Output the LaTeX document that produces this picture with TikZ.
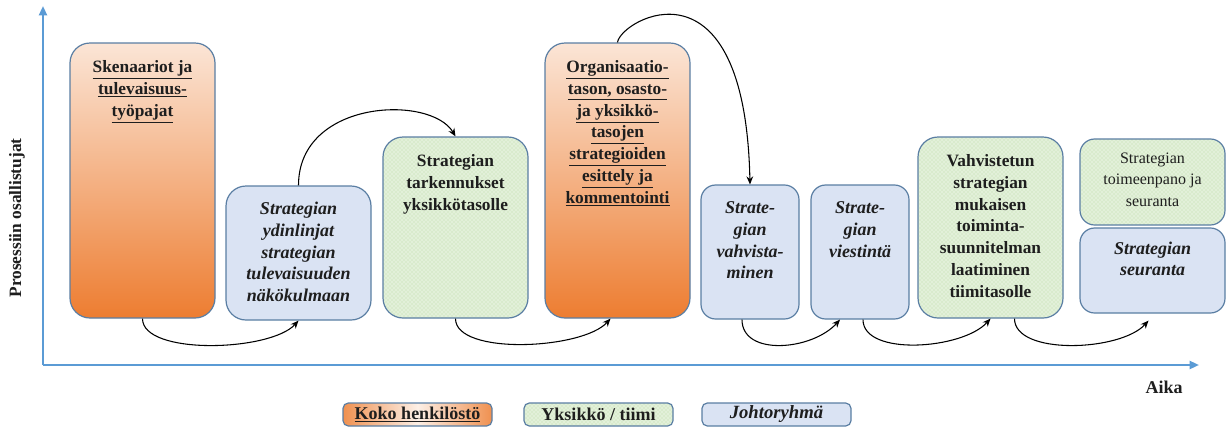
\documentclass[tikz,border=0pt]{standalone}
\usepackage{fontspec}
\setmainfont{Liberation Serif}
\usetikzlibrary{arrows.meta,patterns,calc}

\definecolor{peach}{HTML}{FBE5D6}
\definecolor{deeporange}{HTML}{ED7D31}
\definecolor{paleblue}{HTML}{DAE3F3}
\definecolor{palegreen}{HTML}{E2F0D9}
\definecolor{dotgreen}{HTML}{BDDBA8}
\definecolor{frame}{HTML}{5A7EA3}
\definecolor{axisblue}{HTML}{5B9BD5}
\definecolor{ink}{HTML}{1E1E1E}

% orange edges with a light centre, for the legend key
\pgfdeclarehorizontalshading{legendglow}{100bp}{
  color(0bp)=(deeporange);
  color(25bp)=(deeporange!85!white);
  color(50bp)=(peach!60!white);
  color(75bp)=(deeporange!85!white);
  color(100bp)=(deeporange)}

\begin{document}
\begin{tikzpicture}[x=0.75pt,y=-0.75pt,
  box/.style={draw=frame, line width=0.9pt, rounded corners=15pt, inner sep=0pt},
  wholestaff/.style={box, top color=peach, bottom color=deeporange},
  unitteam/.style={box, preaction={fill=palegreen}, pattern=crosshatch dots, pattern color=dotgreen},
  mgmt/.style={box, fill=paleblue},
  txt/.style={align=center, inner sep=0pt, text=ink, font=\fontsize{13}{16.3}\selectfont\bfseries},
  itxt/.style={txt, font=\fontsize{13.5}{16.3}\selectfont\bfseries\itshape},
  ptxt/.style={txt, font=\fontsize{12}{16.3}\selectfont},
  legtxt/.style={txt, font=\fontsize{13.5}{16.3}\selectfont\bfseries},
  flow/.style={draw=black, line width=0.8pt, -{Stealth[length=6pt,width=5pt]}},
  axis/.style={draw=axisblue, line width=1.6pt, -{Triangle[length=7pt,width=6pt]}}
]
\useasboundingbox (0,0) rectangle (1232,436);

% axes
\coordinate (origin) at (43,365);
\coordinate (ytop) at (43,6);
\coordinate (xend) at (1199,365);
\draw[axis] (origin) -- (ytop);
\draw[axis] (origin) -- (xend);
\node[txt, rotate=90] (ylabel) at (17,218) {Prosessiin osallistujat};
\node[legtxt] (xlabel) at (1164,387) {Aika};

% process steps
\node[wholestaff, minimum width=108.75pt, minimum height=206.25pt] (b1) at (142.5,180.5) {};
\node[mgmt, minimum width=108.75pt, minimum height=100.5pt] (b2) at (298.5,253) {};
\node[unitteam, minimum width=108.75pt, minimum height=135.75pt] (b3) at (455.5,227.5) {};
\node[wholestaff, minimum width=108.75pt, minimum height=206.25pt] (b4) at (617.5,180.5) {};
\node[mgmt, rounded corners=11pt, minimum width=73.5pt, minimum height=100.5pt] (b5) at (750,252) {};
\node[mgmt, rounded corners=11pt, minimum width=73.5pt, minimum height=100.5pt] (b6) at (860,252) {};
\node[unitteam, minimum width=108.75pt, minimum height=135.75pt] (b7) at (990.5,227.5) {};
\node[unitteam, rounded corners=11pt, minimum width=108.75pt, minimum height=64.5pt] (b8) at (1152.5,182) {};
\node[mgmt, rounded corners=11pt, minimum width=108.75pt, minimum height=63.75pt] (b9) at (1152.5,270.5) {};

% step texts
\node[txt, anchor=north] (t1) at ($(b1.north)+(0,18)$)
  {\underline{Skenaariot ja}\\\underline{tulevaisuus-}\\\underline{työpajat}};
\node[itxt] (t2) at ($(b2.center)+(0,-1)$)
  {Strategian\\ydinlinjat\\strategian\\tulevaisuuden\\näkökulmaan};
\node[txt, anchor=north] (t3) at ($(b3.north)+(0,18)$)
  {Strategian\\tarkennukset\\yksikkötasolle};
\node[txt, anchor=north] (t4) at ($(b4.north)+(0,18)$)
  {\underline{Organisaatio-}\\\underline{tason, osasto-}\\\underline{ja yksikkö-}\\\underline{tasojen}\\\underline{strategioiden}\\\underline{esittely ja}\\\underline{kommentointi}};
\node[itxt, anchor=north] (t5) at ($(b5.north)+(0,17)$)
  {Strate-\\gian\\vahvista-\\minen};
\node[itxt, anchor=north] (t6) at ($(b6.north)+(0,17)$)
  {Strate-\\gian\\viestintä};
\node[txt, anchor=north] (t7) at ($(b7.north)+(0,18)$)
  {Vahvistetun\\strategian\\mukaisen\\toiminta-\\suunnitelman\\laatiminen\\tiimitasolle};
\node[ptxt, anchor=north] (t8) at ($(b8.north)+(0,14)$)
  {Strategian\\toimeenpano ja\\seuranta};
\node[itxt, anchor=north] (t9) at ($(b9.north)+(0,14)$)
  {Strategian\\seuranta};

% flow between steps
\draw[flow] (b1.south) .. controls +(0,37) and +(-28,31) .. (b2.south);
\draw[flow] (b2.north) .. controls +(0,-86) and +(-25,-42) .. (b3.north);
\draw[flow] (b3.south) .. controls +(0,37) and +(-28,31) .. ($(b4.south)+(-7,0)$);
\draw[flow] (b4.north) .. controls +(3,-23) and +(-5,-235) .. (b5.north);
\draw[flow] ($(b5.south)+(-8,0)$) .. controls +(0,37) and +(-28,31) .. ($(b6.south)+(-20,0)$);
\draw[flow] ($(b6.south)+(3,0)$) .. controls +(0,37) and +(-28,31) .. (b7.south);
\draw[flow] ($(b7.south)+(24,0)$) .. controls +(0,37) and +(-28,31) .. ($(b9.south)+(-4,7)$);

% legend
\node[box, rounded corners=4pt, shading=legendglow,
      minimum width=111.75pt, minimum height=17.25pt, legtxt] (l1) at (417.5,414.5) {\underline{Koko henkilöstö}};
\node[unitteam, rounded corners=4pt, minimum width=111.75pt, minimum height=17.25pt, legtxt] (l2) at (598.5,414.5) {Yksikkö / tiimi};
\node[mgmt, rounded corners=4pt, minimum width=111.75pt, minimum height=17.25pt, itxt, font=\fontsize{14}{16.3}\selectfont\bfseries\itshape] (l3) at (776.5,414.5) {Johtoryhmä};
\end{tikzpicture}
\end{document}
